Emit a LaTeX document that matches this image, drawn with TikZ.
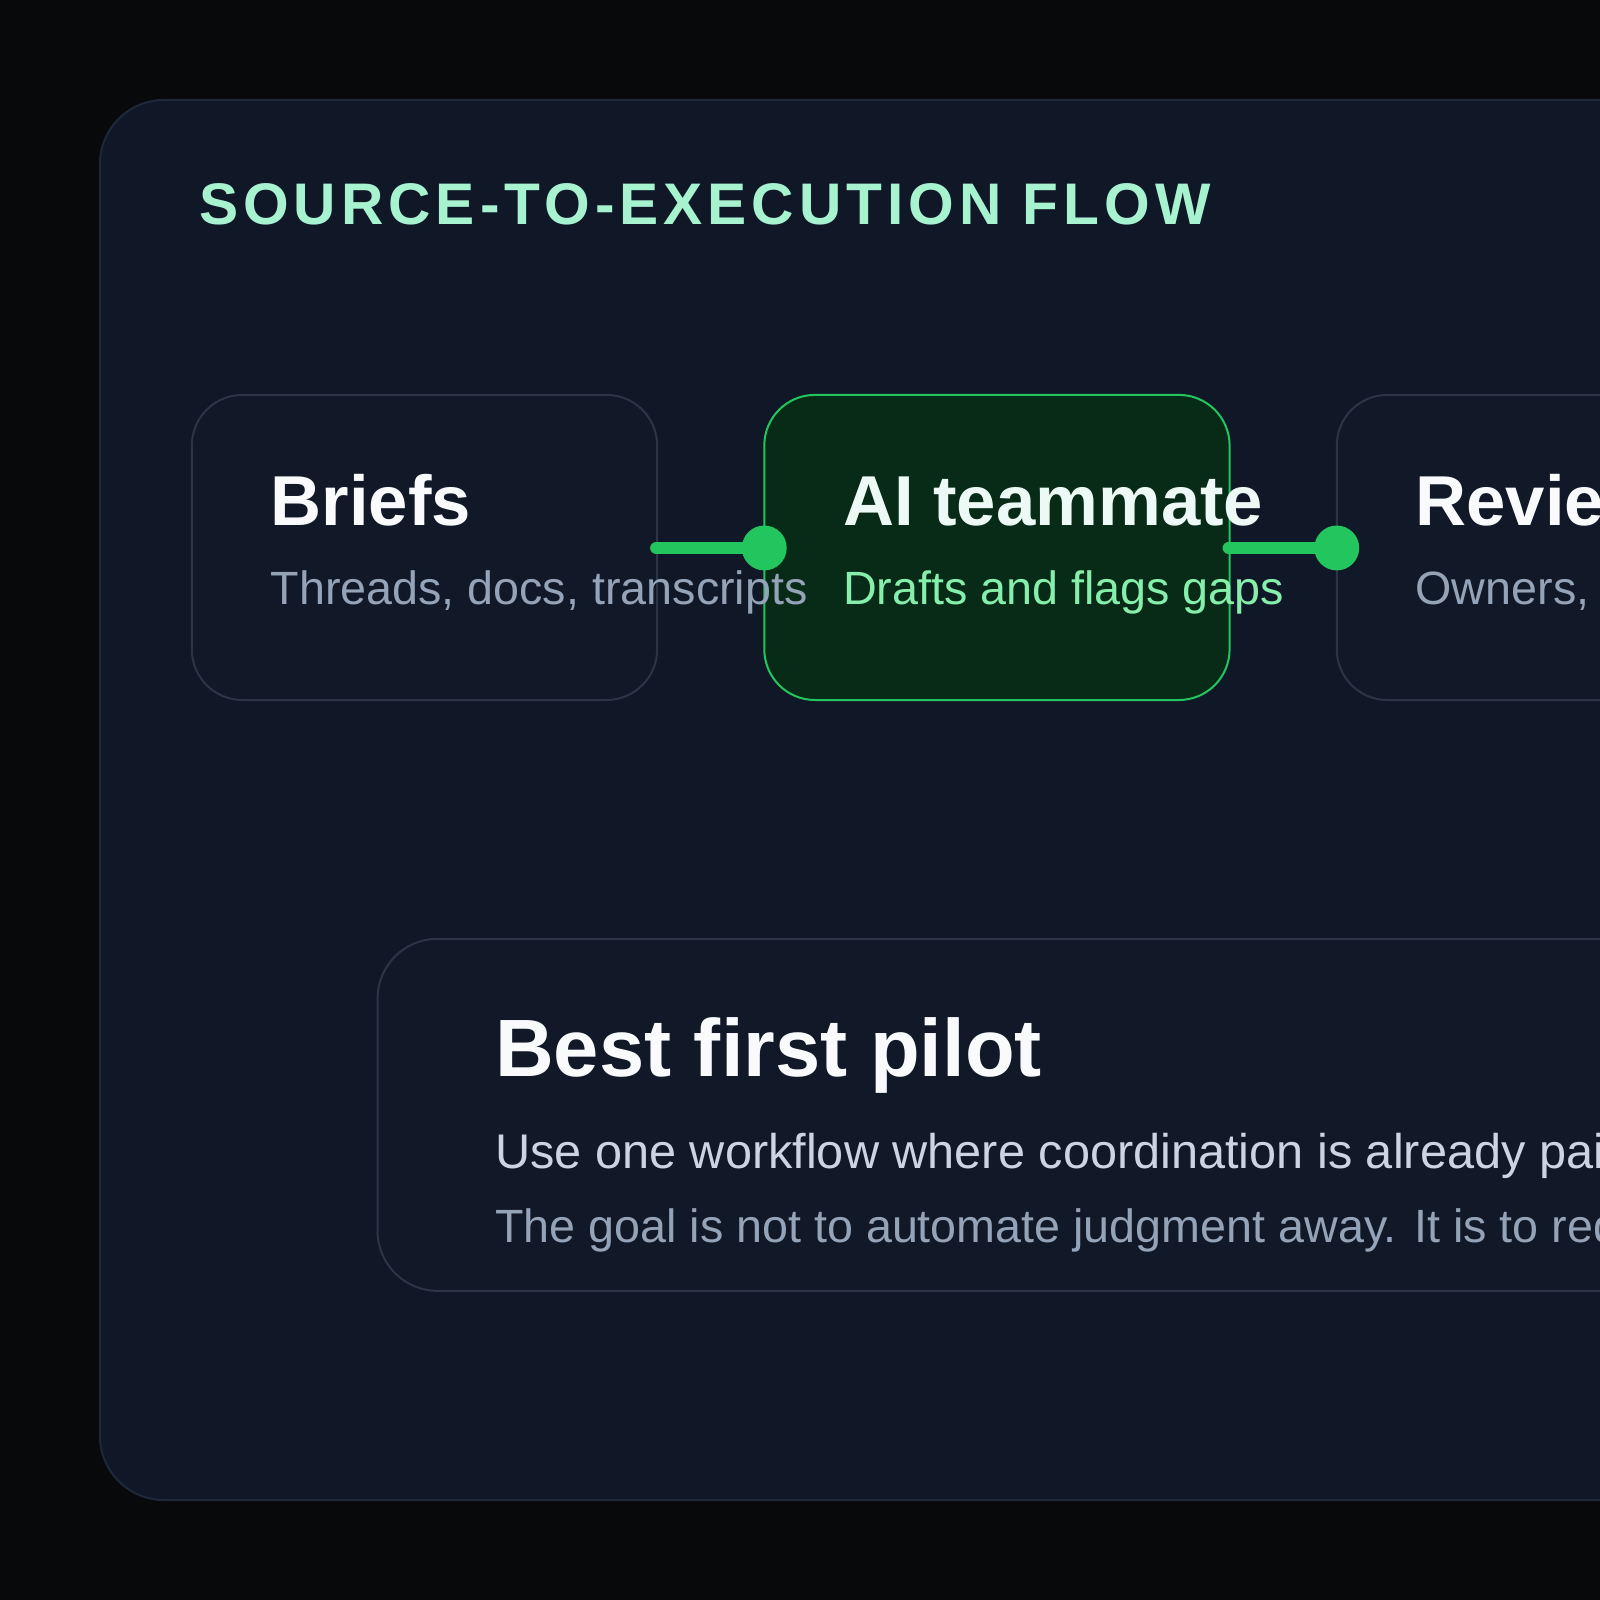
\documentclass[tikz,border=0pt]{standalone}
\usepackage{fontspec}
\setmainfont{Liberation Sans}
\usepackage{tikz}
\usetikzlibrary{positioning}
\definecolor{flBack}{HTML}{08090B}
\definecolor{flPanel}{HTML}{101828}
\definecolor{flPanelLine}{HTML}{1E2838}
\definecolor{flCard}{HTML}{111827}
\definecolor{flCardLine}{HTML}{2B3546}
\definecolor{flGreenCard}{HTML}{072B17}
\definecolor{flGreen}{HTML}{22C55E}
\definecolor{flMint}{HTML}{A7F3D0}
\definecolor{flSubGreen}{HTML}{86EFAC}
\definecolor{flGray}{HTML}{94A3B8}
\definecolor{flLight}{HTML}{CBD5E1}
\definecolor{flWhite}{HTML}{F8FAFC}
\tikzset{
    card/.style={
        draw=flCardLine,
        line width=1.5,
        fill=flCard
    },
    hotcard/.style={
        draw=flGreen,
        line width=1.5,
        fill=flGreenCard
    },
    headline/.style={
        anchor=base west,
        inner sep=0pt,
        font=\fontsize{53}{61}\selectfont\bfseries,
        text=flWhite
    },
    subline/.style={
        anchor=base west,
        inner sep=0pt,
        font=\fontsize{35}{41}\selectfont,
        text=flGray
    },
    link/.style={
        line width=9,
        line cap=round,
        color=flGreen
    }
}
\begin{document}
\begin{tikzpicture}[x=0.7653pt, y=-0.7653pt]
  \useasboundingbox (0,0) rectangle (1568,1568);
  \fill[flBack] (0,0) rectangle (1568,1568);

  % Panel
  \draw[fill=flPanel, draw=flPanelLine, line width=1.5, rounded corners=48]
    (98,98) rectangle (1700,1470);
  \node[anchor=base west, inner sep=0pt, text=flMint,
        font=\fontsize{44}{50}\selectfont\bfseries\addfontfeature{LetterSpace=8.5}]
    (title) at (195,220) {SOURCE-TO-EXECUTION FLOW};

  % Cards
  \draw[card, rounded corners=38] (188,387) rectangle (644,686);
  \draw[hotcard, rounded corners=38] (749,387) rectangle (1205,686);
  \draw[card, rounded corners=38] (1310,387) rectangle (1766,686);

  \node[headline] (briefs) at (265,515) {Briefs};
  \node[subline] (briefsSub) at (265,592) {Threads, docs, transcripts};
  \node[headline, text=flWhite!90!flSubGreen] (mate) at (826,515) {AI teammate};
  \node[subline, text=flSubGreen] (mateSub) at (826,592) {Drafts and flags gaps};
  \node[headline] (review) at (1387,515) {Review};
  \node[subline] (reviewSub) at (1387,592) {Owners, approvals};

  % Links
  \coordinate (a1) at (643,537);
  \coordinate (a2) at (749,537);
  \coordinate (b1) at (1204,537);
  \coordinate (b2) at (1310,537);
  \draw[link] (a1) -- (a2);
  \fill[flGreen] (a2) circle (22);
  \draw[link] (b1) -- (b2);
  \fill[flGreen] (b2) circle (22);

  % Pilot card
  \draw[card, rounded corners=45] (370,920) rectangle (1800,1265);
  \node[headline, font=\fontsize{61}{71}\selectfont\bfseries] (pilot) at (485,1055) {Best first pilot};
  \node[subline, text=flLight, font=\fontsize{36.5}{43}\selectfont] (pilotUse) at (485,1145)
    {Use one workflow where coordination is already painful};
  \node[subline] (pilotGoal) at (485,1218)
    {The goal is not to automate judgment away. It is to reduce friction};
\end{tikzpicture}
\end{document}
